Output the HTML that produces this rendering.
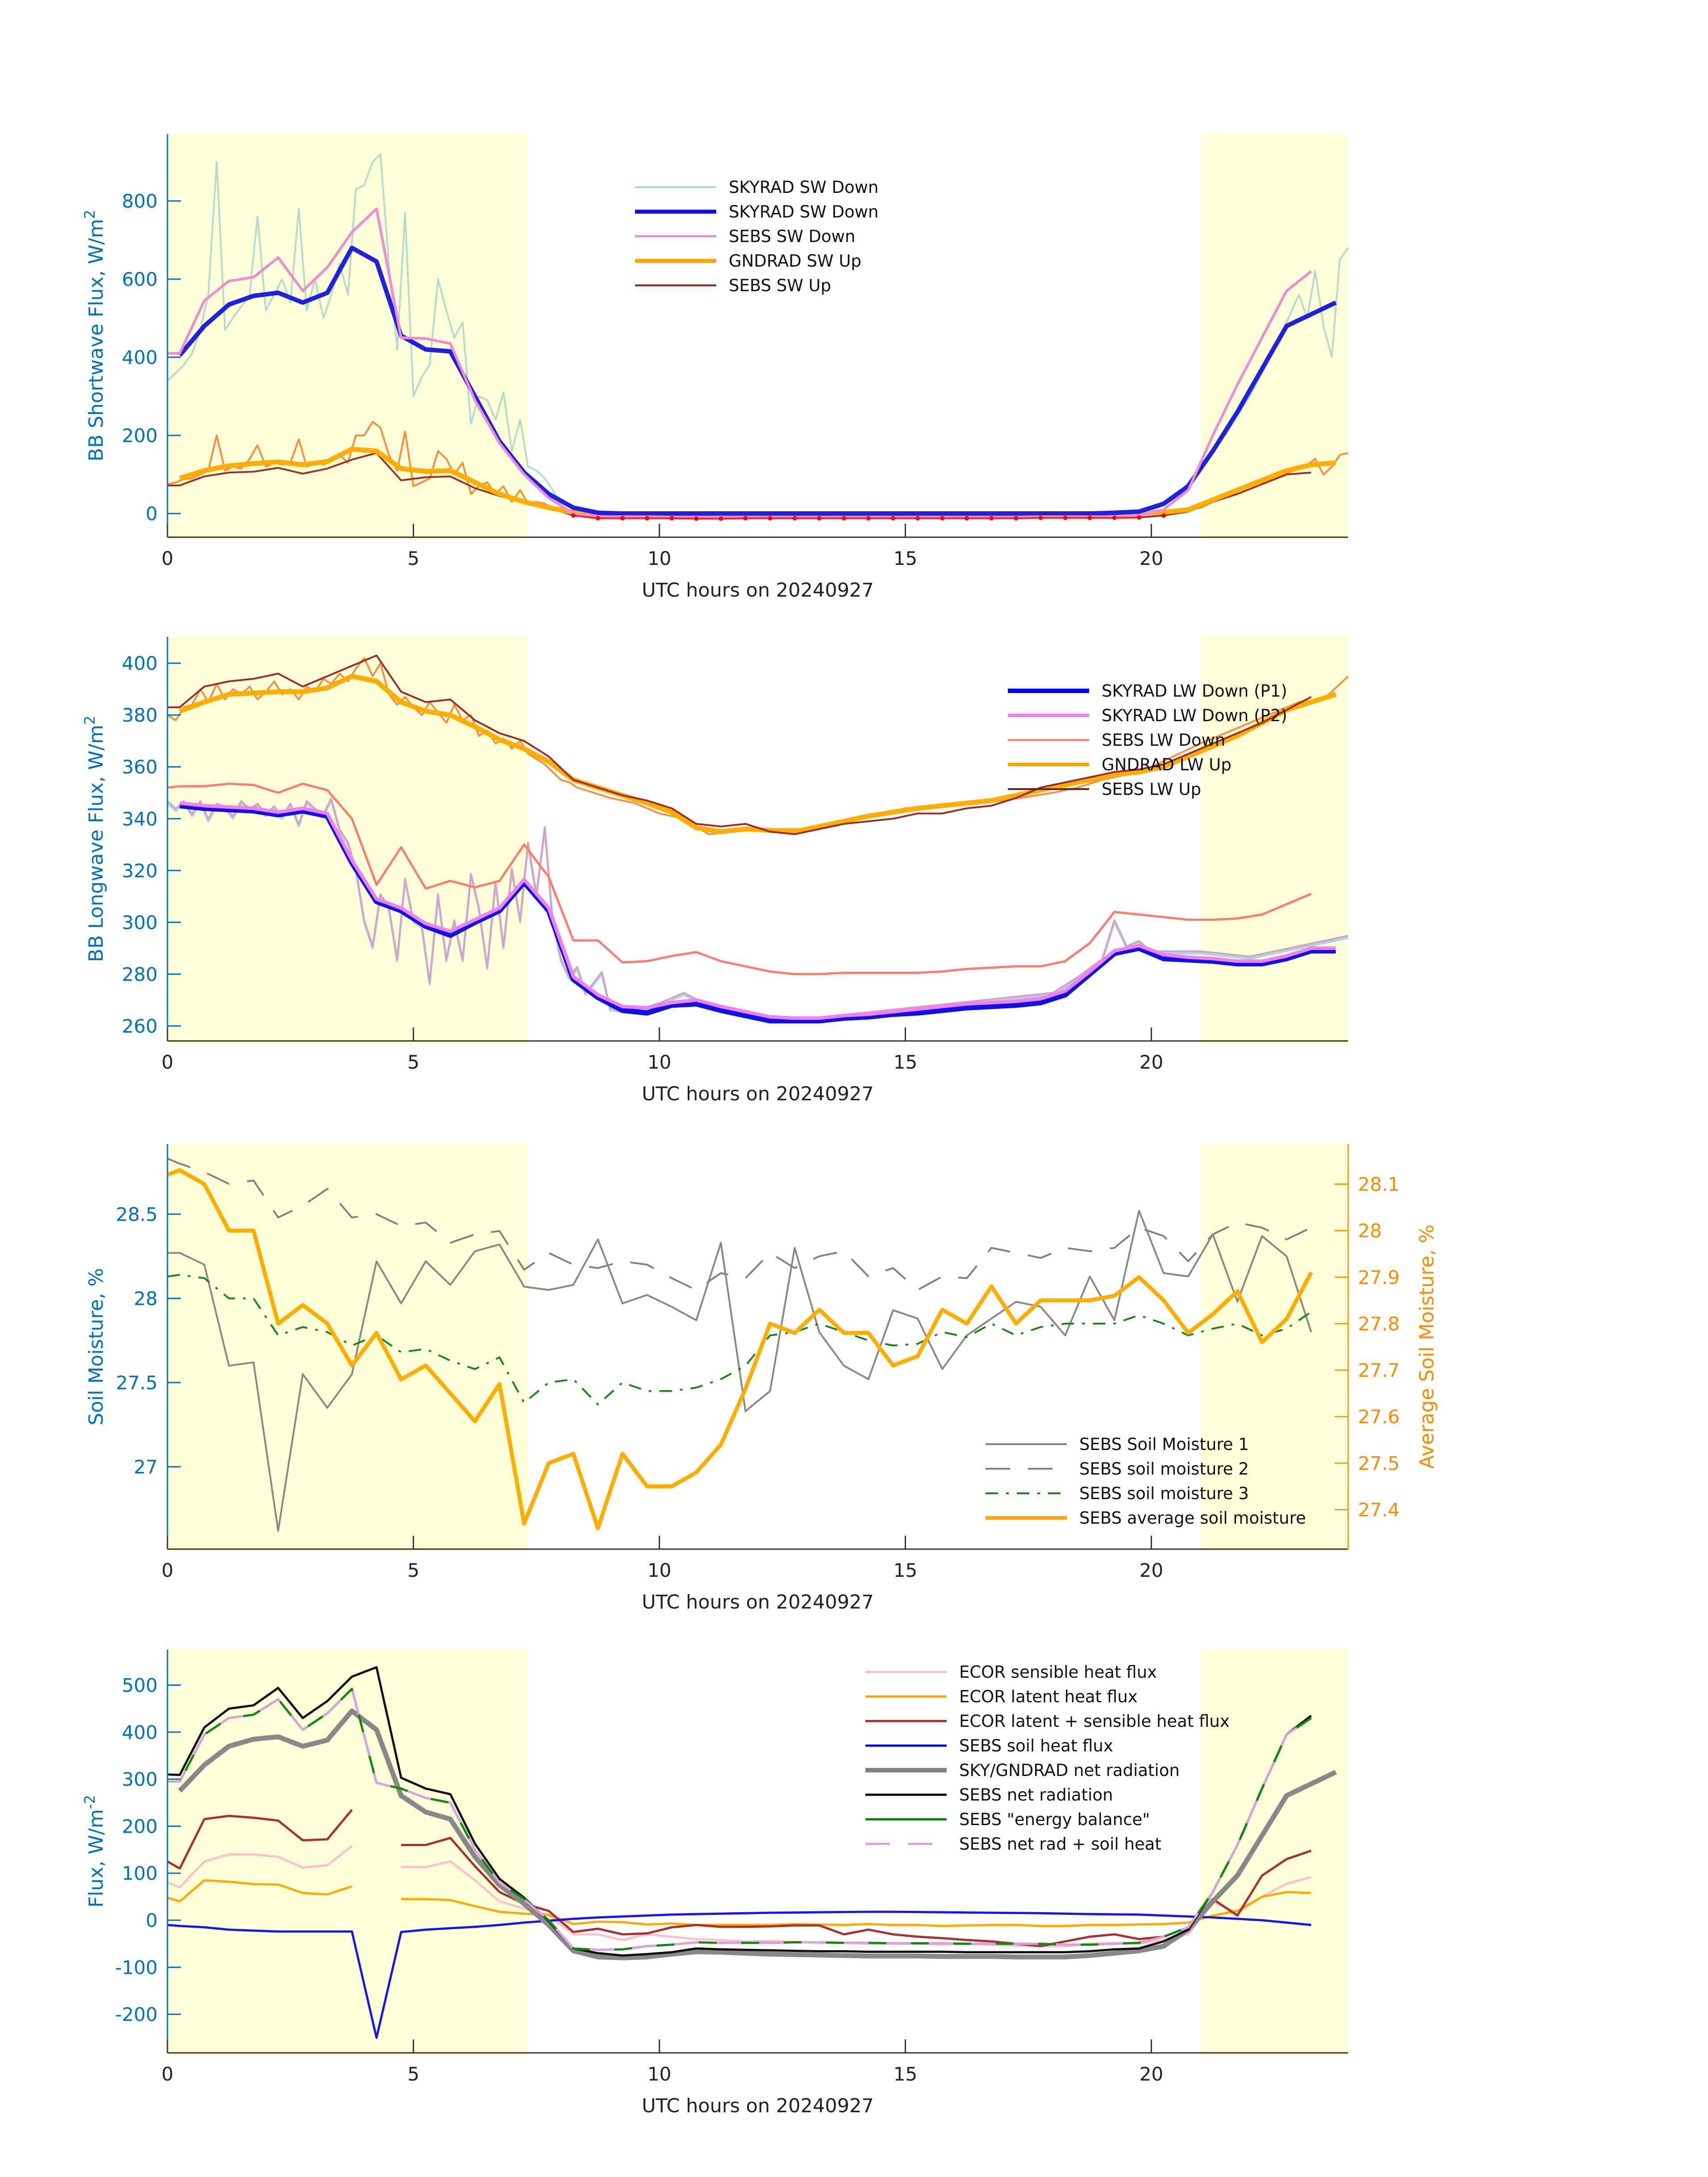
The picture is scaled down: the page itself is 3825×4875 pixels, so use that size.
<!DOCTYPE html>
<html><head><meta charset="utf-8"><style>
html,body{margin:0;padding:0;background:#fff}
svg{display:block}
text{font-family:"DejaVu Sans","Liberation Sans",sans-serif}
</style></head><body>
<svg id="fig" width="3825" height="4875" viewBox="0 0 3825 4875" xmlns="http://www.w3.org/2000/svg"></svg>
<script>
// ---------- DATA ----------
const tHalf = [0,0.25,0.75,1.25,1.75,2.25,2.75,3.25,3.75,4.25,4.75,5.25,5.75,6.25,6.75,7.25,7.75,8.25,8.75,9.25,9.75,10.25,10.75,11.25,11.75,12.25,12.75,13.25,13.75,14.25,14.75,15.25,15.75,16.25,16.75,17.25,17.75,18.25,18.75,19.25,19.75,20.25,20.75,21.25,21.75,22.25,22.75,23.25,23.75];
// Panel 1: shortwave
const skySWDown = [null,405,480,535,557,565,540,565,680,645,455,420,415,300,185,105,50,15,2,0,0,0,0,0,0,0,0,0,0,0,0,0,0,0,0,0,0,0,0,2,5,25,70,160,260,370,480,510,540];
const sebsSWDown = [410,410,545,595,605,655,570,630,720,780,450,448,435,290,180,100,40,0,-8,-8,-8,-9,-9,-9,-9,-9,-9,-9,-9,-9,-9,-9,-9,-9,-9,-9,-8,-8,-8,-8,-5,10,60,200,330,450,570,620,null];
const gndSWUp = [null,90,110,122,128,132,125,133,165,160,115,108,110,80,50,30,15,3,0,0,0,0,0,0,0,0,0,0,0,0,0,0,0,0,0,0,0,0,0,0,1,3,10,35,60,85,110,125,130];
const sebsSWUp = [72,72,95,105,107,117,102,115,138,155,85,93,95,65,45,28,15,-5,-12,-12,-12,-12,-13,-13,-12,-12,-12,-12,-12,-12,-12,-12,-12,-12,-12,-12,-11,-11,-11,-11,-10,-5,5,30,50,75,100,105,null];
const tRaw = [0,0.17,0.33,0.5,0.67,0.83,1,1.17,1.33,1.5,1.67,1.83,2,2.17,2.33,2.5,2.67,2.83,3,3.17,3.33,3.5,3.67,3.83,4,4.17,4.33,4.5,4.67,4.83,5,5.17,5.33,5.5,5.67,5.83,6,6.17,6.33,6.5,6.67,6.83,7,7.17,7.33,7.5,7.67,7.83,8,8.17,8.33,8.5,12,16,20,20.5,21,21.5,22,22.5,23,23.17,23.33,23.5,23.67,23.83,24];
const skySWRaw = [340,360,380,410,470,560,900,470,500,530,560,760,520,560,600,540,780,520,600,500,560,640,560,830,840,900,920,640,420,770,300,350,380,600,520,450,490,230,300,290,240,310,160,240,120,110,90,60,20,5,0,0,0,0,5,40,120,200,300,420,560,500,620,480,400,650,680];
const gndSWRaw = [75,80,88,90,100,110,200,110,120,115,140,175,120,130,125,130,190,120,130,125,135,150,130,200,200,235,220,150,110,210,70,80,90,160,140,100,130,50,70,80,50,70,30,60,25,30,25,15,5,2,0,0,0,0,0,5,15,45,70,90,115,125,140,100,120,150,155];
// Panel 2: longwave
const skyLWP1 = [null,345,344,343.5,343,341.5,343,341,323,308,304.5,298.5,295,300,304.5,315.5,304.5,278,271,266,265,268,268.5,266,264,262,262,262,263,263.5,264.5,265,266,267,267.5,268,269,272,280,288,290,286,285.5,285,284,284,286,289,289];
const skyLWP2 = [null,346,345,344.5,344,342.5,344,342,324,309,305.5,299.5,296.5,301,305.5,316.5,305.5,279,272,267.5,267,269,270,267.5,265.5,263.5,263,263,264,264.5,265.5,266.5,267.5,268.5,269,269.5,270.5,273.5,281,289,291,287.5,286.5,286,285,285,287,290,290];
const sebsLWDown = [352,352.5,352.5,353.5,353,350,353.5,351,340,314.5,329,313,316,313.5,316,330,317.5,293,293,284.5,285,287,288.5,285,283,281,280,280,280.5,280.5,280.5,280.5,281,282,282.5,283,283,285,292,304,303,302,301,301,301.5,303,307,311,null];
const gndLWUp = [null,381.5,385,388,388.5,389,389,390.5,395,393,385,381.5,380,375.5,370.5,367,362,355,352,349,346,342.5,336.5,335,336,335.5,335,337,339,341,342.5,344,345,346,347,349,351,353,355,357,358,360,364,368,372,377,382,385,388];
const sebsLWUp = [383,383,391,393,394,396,391,395,399,403,389,385,386,378,373,370,364,355,352,349,347,344,338,337,338,335,334,336,338,339,340,342,342,344,345,348,352,354,356,358,359,361,365,369,373,377,382,387,null];
const tRaw2 = [0,0.17,0.33,0.5,0.67,0.83,1,1.17,1.33,1.5,1.67,1.83,2,2.17,2.33,2.5,2.67,2.83,3,3.17,3.33,3.5,3.67,3.83,4,4.17,4.33,4.5,4.67,4.83,5,5.17,5.33,5.5,5.67,5.83,6,6.17,6.33,6.5,6.67,6.83,7,7.17,7.33,7.5,7.67,7.83,8,8.17,8.33,8.5,8.67,8.83,9,9.5,10,10.5,11,12,13,14,15,16,17,18,18.5,19,19.25,19.5,19.75,20,21,22,23,23.5,24];
const lwDownRaw = [346,343,346,341,346,339,345,344,340,346,343,345,341,344,340,345,337,346,343,341,347,335,330,320,300,290,310,305,285,316,300,298,276,310,285,300,285,318,305,282,315,290,320,300,330,310,336,300,285,278,282,272,276,280,266,265,268,272,267,263,262,264,266,268,270,272,278,285,300,290,292,288,288,286,290,292,294];
const gndLWRaw = [380,378,383,384,390,385,392,386,390,388,391,386,389,393,388,390,386,391,389,394,392,396,393,398,402,395,400,388,384,387,383,380,385,381,377,384,378,380,372,374,369,371,367,370,365,363,361,358,355,354,352,351,350,349,348,346,342,340,334,336,336,340,344,346,347,350,352,355,356,357,358,360,369,377,385,386,395];
// Panel 3: soil moisture
const soil1 = [28.27,28.27,28.2,27.6,27.62,26.62,27.55,27.35,27.55,28.22,27.97,28.22,28.08,28.28,28.32,28.07,28.05,28.08,28.35,27.97,28.02,27.95,27.87,28.33,27.33,27.45,28.3,27.8,27.6,27.52,27.93,27.88,27.58,27.78,27.88,27.98,27.95,27.78,28.13,27.87,28.52,28.15,28.13,28.38,27.98,28.37,28.25,27.8,null];
const soil2 = [28.83,28.8,28.75,28.68,28.7,28.48,28.55,28.65,28.48,28.5,28.43,28.45,28.33,28.38,28.4,28.17,28.27,28.2,28.18,28.22,28.2,28.12,28.05,28.15,28.12,28.27,28.18,28.25,28.28,28.13,28.18,28.05,28.13,28.12,28.3,28.27,28.24,28.3,28.28,28.3,28.42,28.37,28.22,28.38,28.45,28.42,28.35,28.42,null];
const soil3 = [28.13,28.14,28.12,28.0,28.0,27.78,27.83,27.8,27.72,27.78,27.68,27.7,27.63,27.58,27.65,27.38,27.5,27.52,27.37,27.5,27.45,27.45,27.47,27.52,27.6,27.78,27.8,27.85,27.8,27.75,27.72,27.73,27.8,27.77,27.85,27.78,27.83,27.85,27.85,27.85,27.9,27.85,27.78,27.82,27.85,27.78,27.82,27.92,null];
const soilAvg = [28.12,28.13,28.1,28.0,28.0,27.8,27.84,27.8,27.71,27.78,27.68,27.71,27.65,27.59,27.67,27.37,27.5,27.52,27.36,27.52,27.45,27.45,27.48,27.54,27.66,27.8,27.78,27.83,27.78,27.78,27.71,27.73,27.83,27.8,27.88,27.8,27.85,27.85,27.85,27.86,27.9,27.85,27.78,27.82,27.87,27.76,27.81,27.91,null];
// Panel 4: fluxes
const ecorSens = [80,70,125,140,140,135,112,117,158,null,113,113,125,85,40,25,10,-30,-30,-42,-30,-35,-40,-42,-45,-44,-46,-48,-48,-50,-50,-50,-52,-50,-52,-54,-55,-55,-50,-48,-50,-42,-30,40,15,50,78,92,null];
const ecorLat = [48,40,85,82,77,76,58,55,72,null,45,45,43,30,18,14,12,-8,-3,-4,-9,-7,-10,-10,-10,-10,-8,-9,-10,-8,-10,-10,-12,-11,-10,-10,-12,-12,-10,-10,-9,-8,-5,10,20,50,60,58,null];
const ecorSum = [125,110,215,222,218,212,170,172,235,null,160,160,175,115,60,35,20,-25,-18,-30,-28,-15,-10,-14,-14,-13,-11,-11,-30,-20,-30,-35,-38,-42,-45,-50,-55,-45,-35,-30,-40,-35,-15,45,10,95,130,148,null];
const sebsG = [-10,-12,-15,-20,-22,-24,-24,-24,-24,-250,-25,-20,-17,-14,-10,-5,-1,3,6,8,10,12,13,14,15,16,16.5,17,17.5,18,18,17.5,17,16.5,16,15.5,15,14,13,12.5,12,10,8,6,3,0,-5,-10,null];
const skyNet = [null,275,330,370,385,390,370,383,445,405,265,230,215,135,75,35,-10,-65,-78,-80,-78,-72,-67,-68,-70,-72,-73,-74,-75,-76,-76,-76,-77,-77,-77,-78,-78,-78,-75,-70,-65,-55,-20,40,95,180,265,290,315];
const sebsNet = [310,309,410,450,457,494,430,466,518,538,303,280,268,163,88,48,-2,-60,-70,-75,-72,-68,-60,-62,-63,-64,-65,-66,-66,-67,-67,-67,-67,-68,-68,-68,-68,-68,-66,-62,-60,-45,-20,60,160,280,395,435,null];
const sebsEB = [295,295,395,430,437,470,405,440,492,292,280,260,250,150,80,45,0,-60,-63,-62,-55,-52,-47,-48,-48,-48,-47,-47,-48,-48,-49,-49,-49,-50,-50,-50,-50,-52,-52,-50,-48,-35,-15,60,160,280,395,430,null];
const xTicks = [0,5,10,15,20];
const p1Ticks = [0,200,400,600,800];
const p2Ticks = [260,280,300,320,340,360,380,400];
const p3Ticks = [27,27.5,28,28.5];
const p3RTicks = [27.4,27.5,27.6,27.7,27.8,27.9,28,28.1];
const p4Ticks = [-200,-100,0,100,200,300,400,500];
const shadeRanges = [[0,7.33],[21,24]];

// ---------- DRAWING ----------
const NS='http://www.w3.org/2000/svg';
const svg=document.getElementById('fig');
const X0=375, X1=3019;
function xs(t){return X0+(t/24)*(X1-X0);}
function mk(tag,attrs,parent){const e=document.createElementNS(NS,tag);for(const k in attrs)e.setAttribute(k,attrs[k]);(parent||svg).appendChild(e);return e;}
function makeY(top,bot,vmin,vmax){return v=>bot-(v-vmin)/(vmax-vmin)*(bot-top);}
function pathD(ts,vs,ys){let d='',pen=false;for(let i=0;i<ts.length&&i<vs.length;i++){const v=vs[i];if(v===null||v===undefined){pen=false;continue;}d+=(pen?'L':'M')+xs(ts[i]).toFixed(1)+' '+ys(v).toFixed(1)+' ';pen=true;}return d;}
function line(g,ts,vs,ys,color,w,name,dash){
  const p=mk('path',{d:pathD(ts,vs,ys),fill:'none',stroke:color,'stroke-width':w,'stroke-linejoin':'round'},g);
  if(dash)p.setAttribute('stroke-dasharray',dash);
  
  
  return p;
}
function panel(name,top,bot){
  const g=mk('g',{});
  
  
  shadeRanges.forEach(r=>{
    const s=mk('rect',{x:xs(r[0]),y:top,width:xs(r[1])-xs(r[0]),height:bot-top+6,fill:'#ffffd9'},g);
    
    
  });
  return g;
}
function axes(g,top,bot,ys,ticks,ytitle,titleSup){
  mk('line',{x1:X0,y1:bot,x2:X1,y2:bot,stroke:'#333','stroke-width':3},g);
  const la=mk('line',{x1:X0,y1:top,x2:X0,y2:bot,stroke:'#0072bd','stroke-width':3},g);
  
  
  ticks.forEach(v=>{
    const y=ys(v);
    mk('line',{x1:X0,y1:y,x2:X0+30,y2:y,stroke:'#0072bd','stroke-width':3},g);
    const t=mk('text',{x:X0-22,y:y+15,'text-anchor':'end','font-size':42,fill:'#0072bd'},g);
    t.textContent=String(v);
    
    
  });
  xTicks.forEach(v=>{
    const x=xs(v);
    mk('line',{x1:x,y1:bot,x2:x,y2:bot-30,stroke:'#333','stroke-width':3},g);
    const t=mk('text',{x:x,y:bot+62,'text-anchor':'middle','font-size':42,fill:'#222'},g);
    t.textContent=String(v);
    
    
  });
  const xt=mk('text',{x:1697,y:bot+133,'text-anchor':'middle','font-size':43,fill:'#222'},g);
  xt.textContent='UTC hours on 20240927';
  
  
  const cy=(top+bot)/2;
  const yt=mk('text',{x:0,y:0,transform:`translate(230,${cy}) rotate(-90)`,'text-anchor':'middle','font-size':44,fill:'#0072bd'},g);
  yt.textContent=ytitle;
  if(titleSup){const ts=mk('tspan',{dy:-18,'font-size':32},yt);ts.textContent=titleSup;}
  
  
}
function legend(g,x,y0,dy,items){
  const lg=mk('g',{},g);
  
  
  items.forEach((it,i)=>{
    const y=y0+i*dy;
    const l=mk('line',{x1:x,y1:y,x2:x+182,y2:y,stroke:it[1],'stroke-width':it[2]},lg);
    if(it[3])l.setAttribute('stroke-dasharray',it[3]);
    const t=mk('text',{x:x+210,y:y+13,'font-size':37,fill:'#111'},lg);
    t.textContent=it[0];
    
    
  });
}
function redDots(g,ts,vs,ys){
  for(let i=0;i<vs.length;i++){ if(vs[i]!==null && vs[i]<0 && ts[i]>8 && ts[i]<20.5){
    const c=mk('circle',{cx:xs(ts[i]),cy:ys(vs[i]),r:5,fill:'#ff0000'},g);
    
    
  }}
}

// Panel 1
{
  const top=300,bot=1203, ys=makeY(top,bot,-60.6,971.4);
  const g=panel('shortwave-panel',top,bot);
  line(g,tRaw,skySWRaw,ys,'#b3dccb',4,'skyrad-sw-down-raw');
  line(g,tRaw,gndSWRaw,ys,'#ff8c3c',4,'gndrad-sw-up-raw');
  line(g,tHalf,sebsSWUp,ys,'#a0301c',4,'sebs-sw-up');
  line(g,tHalf,gndSWUp,ys,'#ffae00',11,'gndrad-sw-up');
  line(g,tHalf,skySWDown,ys,'#2020e0',10,'skyrad-sw-down');
  line(g,tHalf,sebsSWDown,ys,'#f08cd0',6,'sebs-sw-down');
  line(g,tHalf.slice(17,41),sebsSWUp.slice(17,41),ys,'#ff2020',4,'sebs-sw-up-night');
  redDots(g,tHalf,sebsSWUp,ys);
  axes(g,top,bot,ys,p1Ticks,'BB Shortwave Flux, W/m','2');
  legend(g,1422,419,55,[['SKYRAD SW Down','#a6d8e0',4],['SKYRAD SW Down','#1010e0',9],['SEBS SW Down','#ee88dd',5],['GNDRAD SW Up','#ffa500',9],['SEBS SW Up','#a02020',4]]);
}
// Panel 2
{
  const top=1426,bot=2331, ys=makeY(top,bot,254.2,410.2);
  const g=panel('longwave-panel',top,bot);
  line(g,tRaw2,lwDownRaw,ys,'#a8d8d8',5,'skyrad-lw-down-raw');
  line(g,tRaw2,lwDownRaw.map(v=>v+0.8),ys,'#d8a0c8',4,'skyrad-lw-down-raw-p2');
  line(g,tRaw2,gndLWRaw,ys,'#ff8c3c',4,'gndrad-lw-up-raw');
  line(g,tHalf,sebsLWDown,ys,'#ff7b6b',5,'sebs-lw-down');
  line(g,tHalf,skyLWP1,ys,'#1010e8',12,'skyrad-lw-down-p1');
  line(g,tHalf,skyLWP2,ys,'#ee82ee',8,'skyrad-lw-down-p2');
  line(g,tHalf,gndLWUp,ys,'#ffae00',11,'gndrad-lw-up');
  line(g,tHalf,sebsLWUp,ys,'#a02828',4,'sebs-lw-up');
  axes(g,top,bot,ys,p2Ticks,'BB Longwave Flux, W/m','2');
  legend(g,2257,1547,55,[['SKYRAD LW Down (P1)','#0000ee',10],['SKYRAD LW Down (P2)','#ee82ee',8],['SEBS LW Down','#ff7b6b',4],['GNDRAD LW Up','#ffa500',8],['SEBS LW Up','#602020',4]]);
}
// Panel 3
{
  const top=2562,bot=3469, ys=makeY(top,bot,26.511,28.916), yr=makeY(top,bot,27.315,28.186);
  const g=panel('soil-moisture-panel',top,bot);
  line(g,tHalf,soil2,ys,'#808080',4,'sebs-soil-moisture-2','55 40');
  line(g,tHalf,soil1,ys,'#888880',4,'sebs-soil-moisture-1');
  line(g,tHalf,soil3,ys,'#118811',4,'sebs-soil-moisture-3','28 18 6 18');
  line(g,tHalf,soilAvg,yr,'#ffae00',9,'sebs-average-soil-moisture');
  axes(g,top,bot,ys,p3Ticks,'Soil Moisture, %','');
  const ra=mk('line',{x1:X1,y1:top,x2:X1,y2:bot,stroke:'#ff9900','stroke-width':3},g);
  
  
  p3RTicks.forEach(v=>{
    const y=yr(v);
    mk('line',{x1:X1-30,y1:y,x2:X1,y2:y,stroke:'#ff9900','stroke-width':3},g);
    const t=mk('text',{x:X1+22,y:y+15,'font-size':42,fill:'#ff8c00'},g);
    t.textContent=String(v);
    
    
  });
  const rt=mk('text',{x:0,y:0,transform:`translate(3210,${(top+bot)/2}) rotate(-90)`,'text-anchor':'middle','font-size':44,fill:'#ff8c00'},g);
  rt.textContent='Average Soil Moisture, %';
  
  
  legend(g,2207,3234,55,[['SEBS Soil Moisture 1','#808080',4],['SEBS soil moisture 2','#808080',4,'55 40'],['SEBS soil moisture 3','#118811',4,'28 18 6 18'],['SEBS average soil moisture','#ffa500',8]]);
}
// Panel 4
{
  const top=3694,bot=4597, ys=makeY(top,bot,-282,575.5);
  const g=panel('heat-flux-panel',top,bot);
  line(g,tHalf,ecorSens,ys,'#ffc0cb',5,'ecor-sensible-heat-flux');
  line(g,tHalf,ecorLat,ys,'#ffaa00',5,'ecor-latent-heat-flux');
  line(g,tHalf,ecorSum,ys,'#aa3030',5,'ecor-latent-plus-sensible');
  line(g,tHalf,sebsG,ys,'#1515ee',5,'sebs-soil-heat-flux');
  line(g,tHalf,skyNet,ys,'#888888',11,'sky-gndrad-net-radiation');
  line(g,tHalf,sebsNet,ys,'#111111',5,'sebs-net-radiation');
  line(g,tHalf,sebsEB,ys,'#118811',5,'sebs-energy-balance');
  line(g,tHalf,sebsEB,ys,'#dda0dd',5,'sebs-net-rad-plus-soil-heat','55 40');
  axes(g,top,bot,ys,p4Ticks,'Flux, W/m','-2');
  legend(g,1938,3744,55,[['ECOR sensible heat flux','#ffc0cb',5],['ECOR latent heat flux','#ffa500',5],['ECOR latent + sensible heat flux','#a52a2a',5],['SEBS soil heat flux','#0000ff',5],['SKY/GNDRAD net radiation','#808080',10],['SEBS net radiation','#000000',5],['SEBS "energy balance"','#008000',5],['SEBS net rad + soil heat','#dda0dd',5,'55 40']]);
}
</script>
</body></html>
